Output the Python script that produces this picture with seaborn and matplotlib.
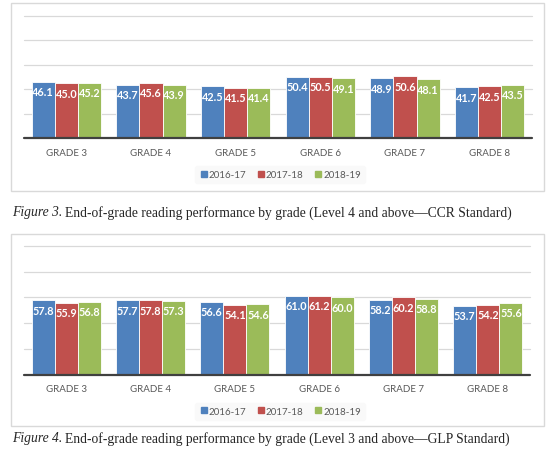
import matplotlib
matplotlib.use("Agg")
import matplotlib.pyplot as plt
from matplotlib.patches import Rectangle
from matplotlib.lines import Line2D
import seaborn as sns
import pandas as pd

grades = ["GRADE 3", "GRADE 4", "GRADE 5", "GRADE 6", "GRADE 7", "GRADE 8"]
years = ["2016-17", "2017-18", "2018-19"]
ccr_2016 = [46.1, 43.7, 42.5, 50.4, 48.9, 41.7]
ccr_2017 = [45.0, 45.6, 41.5, 50.5, 50.6, 42.5]
ccr_2018 = [45.2, 43.9, 41.4, 49.1, 48.1, 43.5]
glp_2016 = [57.8, 57.7, 56.6, 61.0, 58.2, 53.7]
glp_2017 = [55.9, 57.8, 54.1, 61.2, 60.2, 54.2]
glp_2018 = [56.8, 57.3, 54.6, 60.0, 58.8, 55.6]
colors = ["#4F81BD", "#C0504D", "#9BBB59"]
caption3 = "End-of-grade reading performance by grade (Level 4 and above\u2014CCR Standard)"
caption4 = "End-of-grade reading performance by grade (Level 3 and above\u2014GLP Standard)"

sns.set_theme(style="white")
plt.rcParams["font.family"] = ["Lato", "DejaVu Sans"]

W, H = 554, 452
fig = plt.figure(figsize=(W / 100, H / 100), dpi=100)
renderer = fig.canvas.get_renderer()


def long_df(series):
    rows = []
    for y, vals in zip(years, series):
        for g, v in zip(grades, vals):
            rows.append({"grade": g, "year": y, "value": v})
    return pd.DataFrame(rows)


def panel(rect_px, box_px, series, caption_y, caption_text, fignum):
    bx0, by0, bx1, by1 = box_px
    fig.patches.append(Rectangle((bx0 / W, 1 - by1 / H), (bx1 - bx0) / W, (by1 - by0) / H,
                                 transform=fig.transFigure, fill=False,
                                 edgecolor="#d9d9d9", linewidth=1.0))
    x0, top, x1, base = rect_px
    ax = fig.add_axes([x0 / W, 1 - base / H, (x1 - x0) / W, (base - top) / H])
    df = long_df(series)
    sns.barplot(data=df, x="grade", y="value", hue="year", order=grades, hue_order=years,
                palette=colors, width=0.82, edgecolor="white", linewidth=0.6,
                errorbar=None, ax=ax, legend=False, saturation=1)
    ax.set_ylim(0, 100)
    ax.set_xlim(-0.5, 5.5)
    for yv in [20, 40, 60, 80, 100]:
        ax.axhline(yv, color="#d9d9d9", linewidth=0.9, zorder=0, clip_on=False)
    ax.axhline(0, color="#404040", linewidth=1.6, zorder=5, clip_on=False)
    for s in ax.spines.values():
        s.set_visible(False)
    ax.set_yticks([])
    ax.set_xlabel("")
    ax.set_ylabel("")
    ax.tick_params(axis="x", length=0, pad=7, labelsize=7, labelcolor="#595959")
    for c in ax.containers:
        ax.bar_label(c, fmt="%.1f", padding=-11, color="white", fontweight="bold",
                     fontsize=7.8)
    handles = [Line2D([], [], marker="s", linestyle="", markersize=4.5,
                      markerfacecolor=col, markeredgecolor=col) for col in colors]
    leg_y = 1 - (base + 36.5) / H
    fig.legend(handles, years, loc="center", bbox_to_anchor=(280 / W, leg_y), ncol=3,
               frameon=True, fontsize=7, labelcolor="#595959", handletextpad=0.1,
               columnspacing=1.0, handlelength=0.9, borderpad=0.4,
               facecolor="#f9f9f9", edgecolor="#f9f9f9", framealpha=1)
    yb = 1 - (caption_y + 3.5) / H
    t1 = fig.text(12 / W, yb, "Figure %d." % fignum, fontsize=9.8,
                  family=["Liberation Serif"], style="italic", va="baseline", ha="left")
    bb = t1.get_window_extent(renderer=renderer)
    fig.text((bb.x1 + 2.5) / W, yb, caption_text, fontsize=9.8,
             family=["Liberation Serif"], va="baseline", ha="left")
    return ax


panel((24, 17, 532, 139.3), (11, 4, 544, 192), [ccr_2016, ccr_2017, ccr_2018], 213, caption3, 3)
panel((24, 247, 530, 375.7), (11, 235, 544, 427), [glp_2016, glp_2017, glp_2018], 439, caption4, 4)

fig.savefig("out.png", dpi=100)
